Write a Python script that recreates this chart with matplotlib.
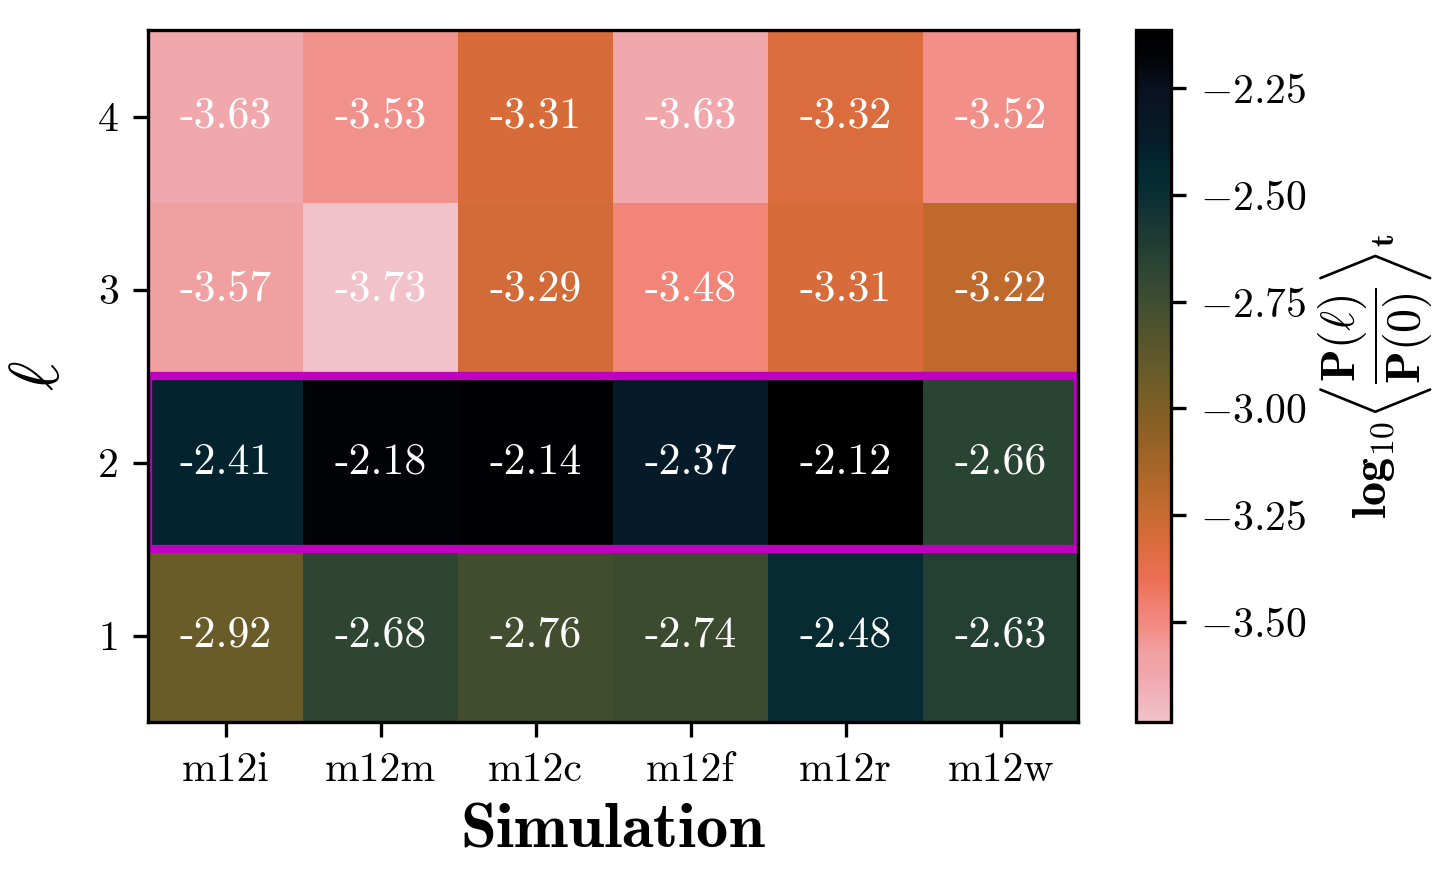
import numpy as np
import matplotlib
matplotlib.use("Agg")
import matplotlib.pyplot as plt
from matplotlib.colors import LinearSegmentedColormap
from matplotlib.patches import Rectangle

plt.rcParams['font.family'] = 'serif'
plt.rcParams['font.serif'] = ['cmr10']
plt.rcParams['mathtext.fontset'] = 'cm'
plt.rcParams['axes.formatter.use_mathtext'] = True
plt.rcParams['axes.unicode_minus'] = True

# data
sims = ['m12i', 'm12m', 'm12c', 'm12f', 'm12r', 'm12w']
ells = [1, 2, 3, 4]
row_l1 = [-2.92, -2.68, -2.76, -2.74, -2.48, -2.63]
row_l2 = [-2.41, -2.18, -2.14, -2.37, -2.12, -2.66]
row_l3 = [-3.57, -3.73, -3.29, -3.48, -3.31, -3.22]
row_l4 = [-3.63, -3.53, -3.31, -3.63, -3.32, -3.52]
cb_ticks = [-2.25, -2.50, -2.75, -3.00, -3.25, -3.50]
vmin, vmax = -3.734, -2.114
highlight_ell = 2

data = np.array([row_l1, row_l2, row_l3, row_l4])

# pink -> orange -> olive -> teal -> black
anchors = [(0.000, '#f2c2cb'), (0.064, '#f0a8ad'), (0.101, '#f0a0a0'),
           (0.132, '#f28e86'), (0.157, '#f28478'), (0.206, '#ec6e55'),
           (0.262, '#d86c3a'), (0.317, '#c06a2e'), (0.422, '#8c6024'),
           (0.502, '#6a5c2a'), (0.601, '#424e30'), (0.663, '#2a4434'),
           (0.774, '#082c34'), (0.815, '#032530'), (0.840, '#061c2a'),
           (0.916, '#0a1220'), (0.959, '#030408'), (1.000, '#000000')]
cmap = LinearSegmentedColormap.from_list('pinkblack', anchors)

fig = plt.figure(figsize=(4.81, 2.957), dpi=300)
ax = fig.add_axes([0.1026, 0.186, 0.6445, 0.780])
cax = fig.add_axes([0.7873, 0.186, 0.0243, 0.780])

im = ax.imshow(data, cmap=cmap, vmin=vmin, vmax=vmax, aspect='auto',
               origin='lower', extent=(-0.5, len(sims) - 0.5, 0.5, len(ells) + 0.5),
               interpolation='nearest')

for i, e in enumerate(ells):
    for j in range(len(sims)):
        ax.text(j, e, f'{data[i, j]:.2f}', ha='center', va='center',
                color='white', fontsize=10.5)

ax.add_patch(Rectangle((-0.5, highlight_ell - 0.5), len(sims), 1,
                       fill=False, edgecolor='#bf00bf', lw=2.0))

ax.set_xticks(range(len(sims)))
ax.set_xticklabels(sims, fontsize=10)
ax.set_yticks(ells)
ax.set_yticklabels([str(e) for e in ells], fontsize=10)
ax.set_xlabel(r'$\mathbf{Simulation}$', fontsize=15.5, labelpad=3)
ax.set_ylabel(r'$\ell$', fontsize=17, labelpad=6)
for s in ax.spines.values():
    s.set_linewidth(0.8)

cb = fig.colorbar(im, cax=cax)
cb.set_ticks(cb_ticks)
cb.ax.tick_params(labelsize=10)
cb.outline.set_linewidth(0.8)
cb.set_label(r'$\mathbf{log_{10}}\left\langle\dfrac{\mathbf{P(}\ell\mathbf{)}}{\mathbf{P(0)}}\right\rangle_{\mathbf{t}}$',
             fontsize=11.5, labelpad=2)

fig.savefig('out.png', dpi=300)
